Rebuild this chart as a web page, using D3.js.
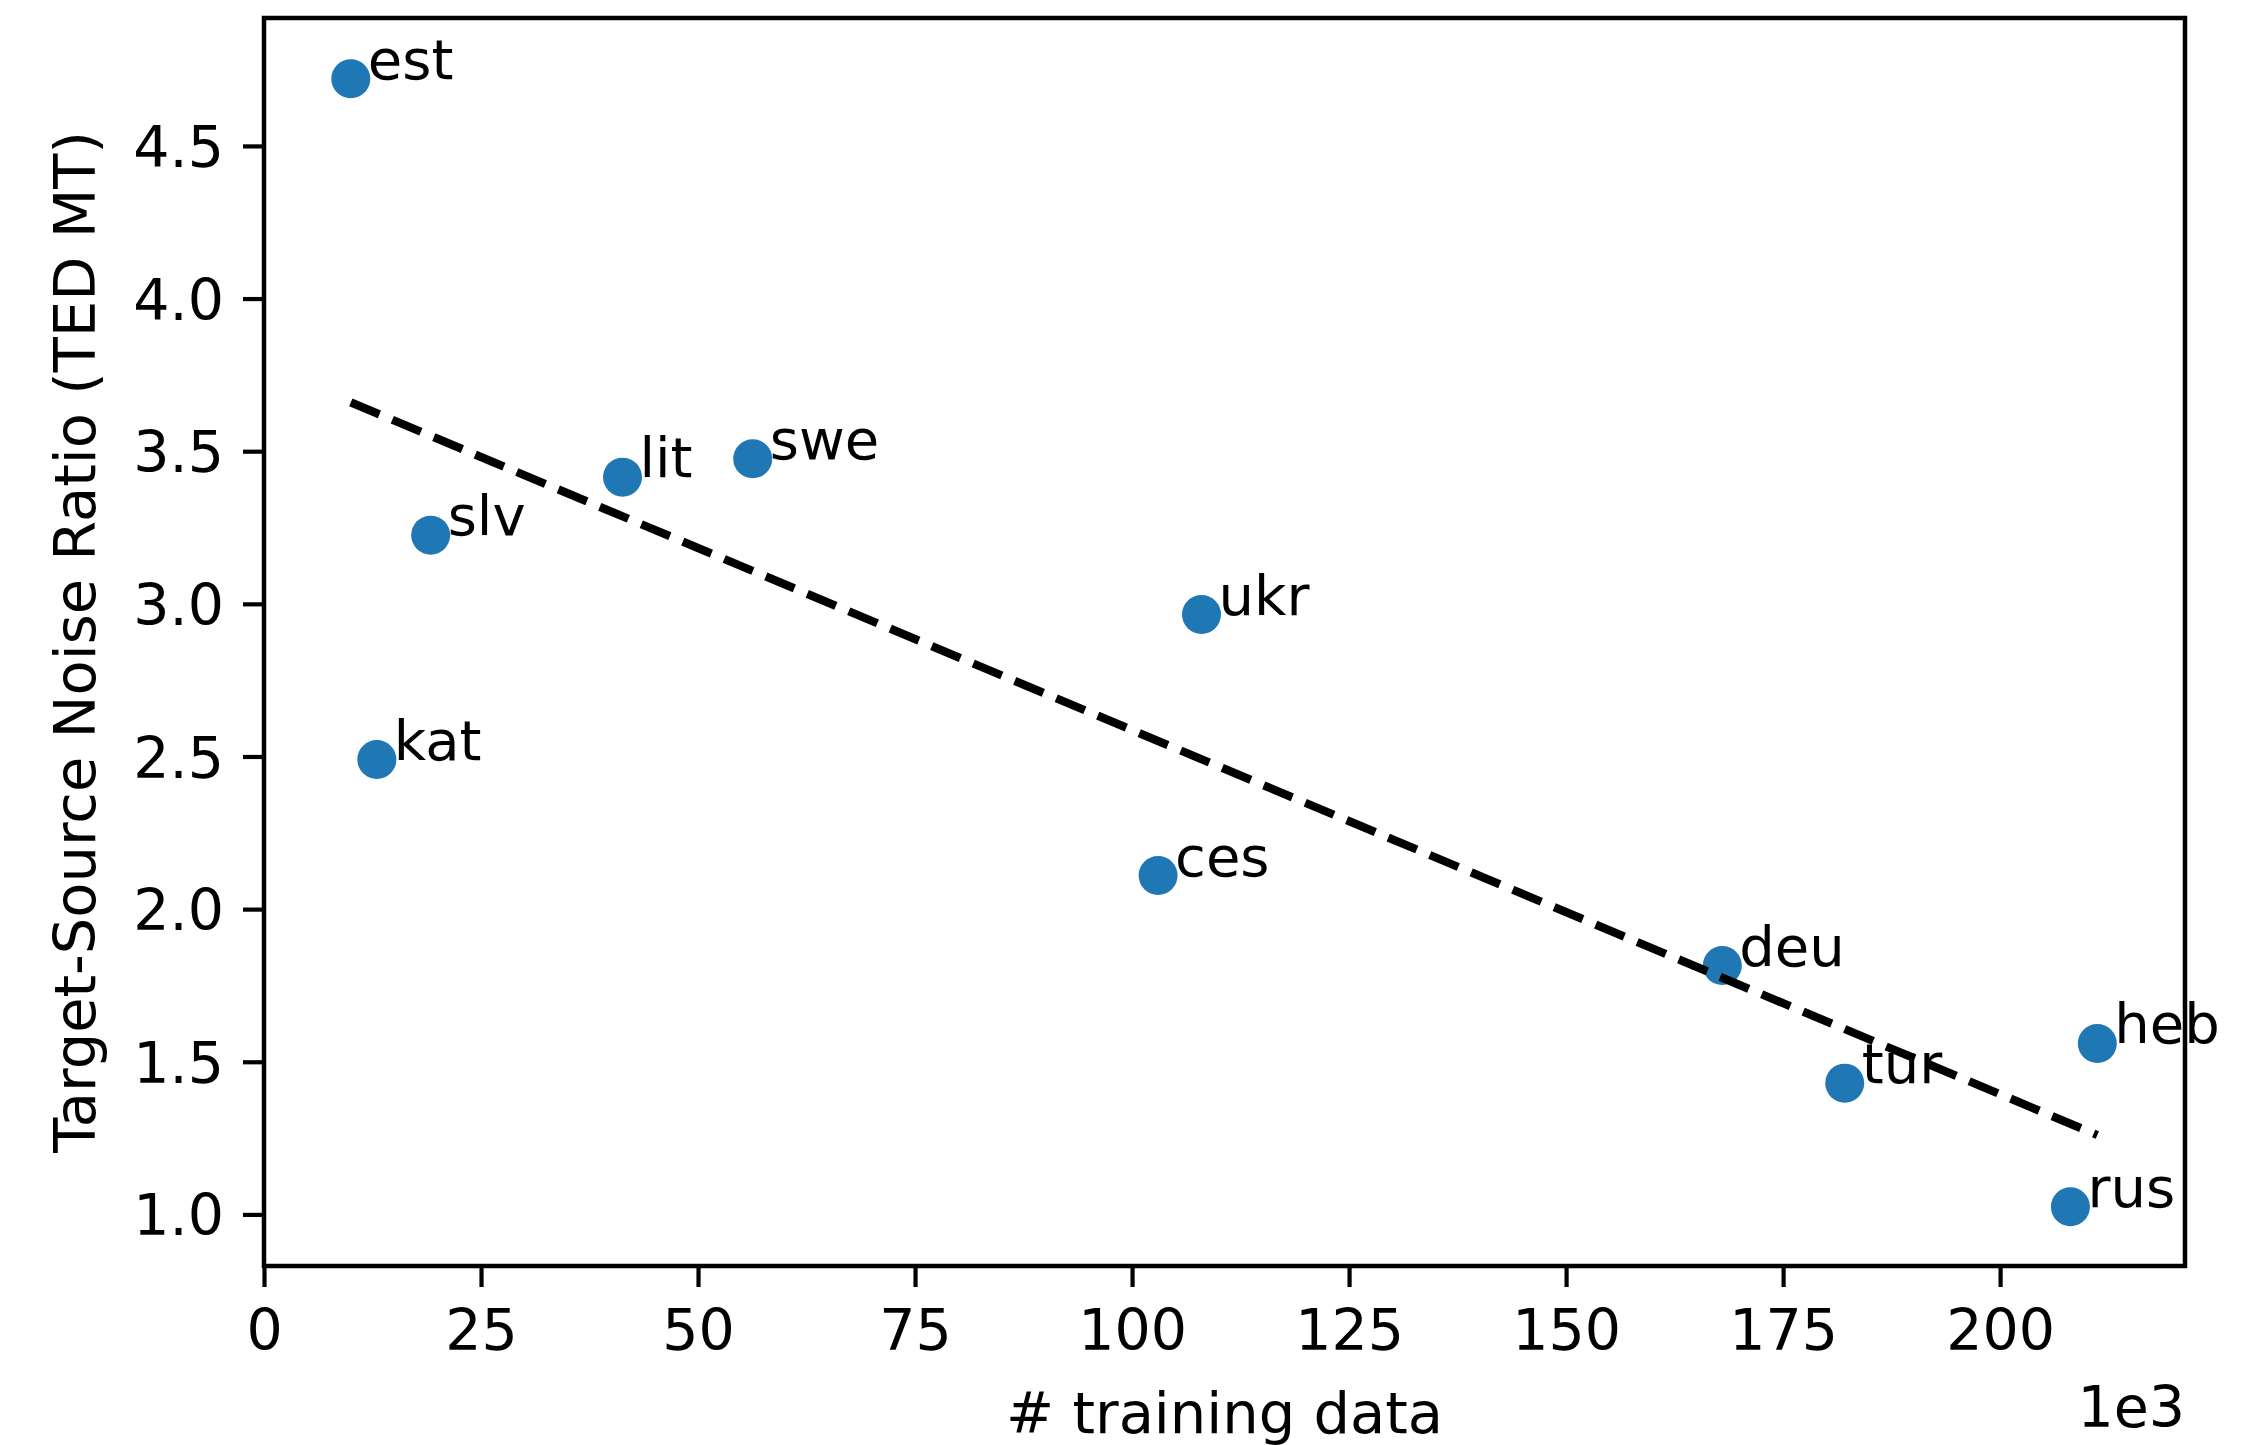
<!DOCTYPE html>
<html>
<head>
<meta charset="utf-8">
<script src="https://cdn.jsdelivr.net/npm/d3@7"></script>
<style>
  body { margin: 0; background: #fff; }
  text { font-family: "DejaVu Sans", sans-serif; fill: #000; }
</style>
</head>
<body>
<div id="chart"></div>
<script>
/* ------------------------------- data ------------------------------- */
// languages, training size (x1000), target-source noise ratio
var languages = ['est', 'kat', 'slv', 'lit', 'swe', 'ukr', 'ces', 'deu', 'tur', 'heb', 'rus'];
var trainingData = [10, 13, 19.2, 41.3, 56.3, 108, 103, 168, 182.1, 211.2, 208.1];
var noiseRatio = [4.72, 2.49, 3.225, 3.415, 3.475, 2.965, 2.11, 1.815, 1.43, 1.56, 1.025];
// dashed trend line, read at both ends
var trendX = [10, 211.2];
var trendY = [3.66, 1.26];
var xTicks = [0, 25, 50, 75, 100, 125, 150, 175, 200];
var yTicks = [1.0, 1.5, 2.0, 2.5, 3.0, 3.5, 4.0, 4.5];

/* ------------------------------- layout ------------------------------- */
var width = 2264;
var height = 1445;
var plot = { left: 264, right: 2185, top: 18, bottom: 1266 };
var tickLen = 21;
var tickFont = 57;
var noteFont = 56;
var labelFont = 57.5;
var blue = '#1f77b4';

var svg = d3.select('#chart').append('svg')
    .attr('width', width)
    .attr('height', height);

var x = d3.scaleLinear().domain([0, 221.3]).range([plot.left, plot.right]);
var y = d3.scaleLinear().domain([0.831, 4.919]).range([plot.bottom, plot.top]);

/* ------------------------------- axes ------------------------------- */
var xAxis = svg.append('g')
    .attr('transform', 'translate(0,' + plot.bottom + ')')
    .call(d3.axisBottom(x).tickValues(xTicks).tickSize(tickLen).tickPadding(20)
      .tickFormat(d3.format('d')));
var yAxis = svg.append('g')
    .attr('transform', 'translate(' + plot.left + ',0)')
    .call(d3.axisLeft(y).tickValues(yTicks).tickSize(tickLen).tickPadding(19)
      .tickFormat(d3.format('.1f')));

[xAxis, yAxis].forEach(function(g) {
  g.select('.domain').remove();
  g.selectAll('.tick line').attr('stroke', '#000').attr('stroke-width', 4.2);
  g.selectAll('.tick text').attr('font-size', tickFont).attr('font-family', null);
});
xAxis.selectAll('.tick text').attr('dy', '0.76em');
yAxis.selectAll('.tick text').attr('dy', '0.36em');

// frame
svg.append('rect')
    .attr('x', plot.left)
    .attr('y', plot.top)
    .attr('width', plot.right - plot.left)
    .attr('height', plot.bottom - plot.top)
    .attr('fill', 'none')
    .attr('stroke', '#000')
    .attr('stroke-width', 4.5);

/* ------------------------------- marks ------------------------------- */
var points = languages.map(function(lang, i) {
  return { lang: lang, x: trainingData[i], y: noiseRatio[i] };
});

svg.append('g').selectAll('circle')
    .data(points)
    .enter()
    .append('circle')
    .attr('cx', function(d) { return x(d.x); })
    .attr('cy', function(d) { return y(d.y); })
    .attr('r', 19.5)
    .attr('fill', blue);

var line = d3.line()
    .x(function(d) { return x(d[0]); })
    .y(function(d) { return y(d[1]); });
svg.append('path')
    .datum(trendX.map(function(v, i) { return [v, trendY[i]]; }))
    .attr('d', line)
    .attr('fill', 'none')
    .attr('stroke', '#000')
    .attr('stroke-width', 8.3)
    .attr('stroke-dasharray', '31,14');

// language labels, drawn last so they sit over the line
svg.append('g').selectAll('text')
    .data(points)
    .enter()
    .append('text')
    .attr('x', function(d) { return x(d.x) + 17; })
    .attr('y', function(d) { return y(d.y); })
    .attr('font-size', noteFont)
    .text(function(d) { return d.lang; });

/* ------------------------------- labels ------------------------------- */
svg.append('text')
    .attr('x', (plot.left + plot.right) / 2)
    .attr('y', 1433)
    .attr('text-anchor', 'middle')
    .attr('font-size', labelFont)
    .text('# training data');

svg.append('text')
    .attr('transform', 'translate(95,' + (plot.top + plot.bottom) / 2 + ') rotate(-90)')
    .attr('text-anchor', 'middle')
    .attr('font-size', labelFont)
    .text('Target-Source Noise Ratio (TED MT)');

svg.append('text')
    .attr('x', plot.right)
    .attr('y', 1427)
    .attr('text-anchor', 'end')
    .attr('font-size', tickFont)
    .text('1e3');
</script>
</body>
</html>
